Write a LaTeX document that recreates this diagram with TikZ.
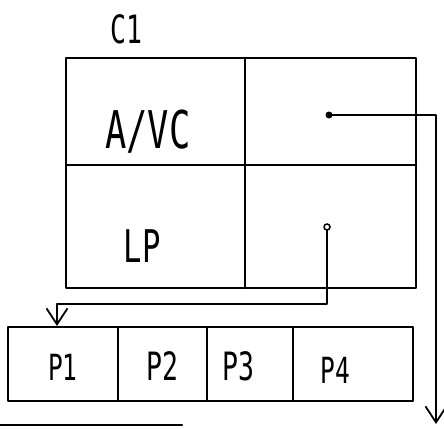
\documentclass[tikz,border=0pt]{standalone}
\usepackage{fontspec}
\newfontfamily\handfont[FakeStretch=0.68]{DejaVu Sans Mono}
\usetikzlibrary{arrows.meta,calc}
\tikzset{
  ln/.style={line width=2.2pt, line cap=round, line join=round},
  lbl/.style={inner sep=0pt, font=\handfont},
  barb/.style={-{Straight Barb[length=16pt,width=21pt,line width=1.8pt]}}
}
\begin{document}
\begin{tikzpicture}[x=1pt,y=-1pt]
\useasboundingbox (0,0) rectangle (444,428);
% upper table C1
\draw[ln] (66,58) rectangle (416,288);
\draw[ln] (66,165) -- (416,165);
\draw[ln] (245,58) -- (245,288);
% lower table
\draw[ln] (8,327) rectangle (413,401);
\draw[ln] (118,327) -- (118,401);
\draw[ln] (207,327) -- (207,401);
\draw[ln] (293,327) -- (293,401);
% partial bottom line
\draw[ln] (0,425) -- (182,425);
% labels
\node[lbl, font=\handfont\fontsize{39}{39}\selectfont] (c1) at (126,29) {C1};
\node[lbl, font=\handfont\fontsize{52}{52}\selectfont] (avc) at (148,132) {A/VC};
\node[lbl, font=\handfont\fontsize{45}{45}\selectfont] (lp) at (142,246) {LP};
\node[lbl, font=\handfont\fontsize{36}{36}\selectfont] (p1) at (63,367) {P1};
\node[lbl, font=\handfont\fontsize{39}{39}\selectfont] (p2) at (162,366) {P2};
\node[lbl, font=\handfont\fontsize{39}{39}\selectfont] (p3) at (238,366) {P3};
\node[lbl, font=\handfont\fontsize{36}{36}\selectfont] (p4) at (335,370) {P4};
% pointer dots
\coordinate (d1) at (329,115);
\coordinate (d2) at (327,227);
\coordinate (t1) at (436,424);
\coordinate (t2) at (57,326);
\fill (d1) circle (3.5pt);
\draw[line width=1.5pt] (d2) circle (3pt);
% connectors
\coordinate (k1) at (436,115);
\coordinate (k2) at (327,304);
\coordinate (k3) at (57,304);
\draw[ln, barb] (d1) -- (k1) -- (t1);
\draw[ln, barb] ($(d2)+(0,3)$) -- (k2) -- (k3) -- (t2);
\end{tikzpicture}
\end{document}
